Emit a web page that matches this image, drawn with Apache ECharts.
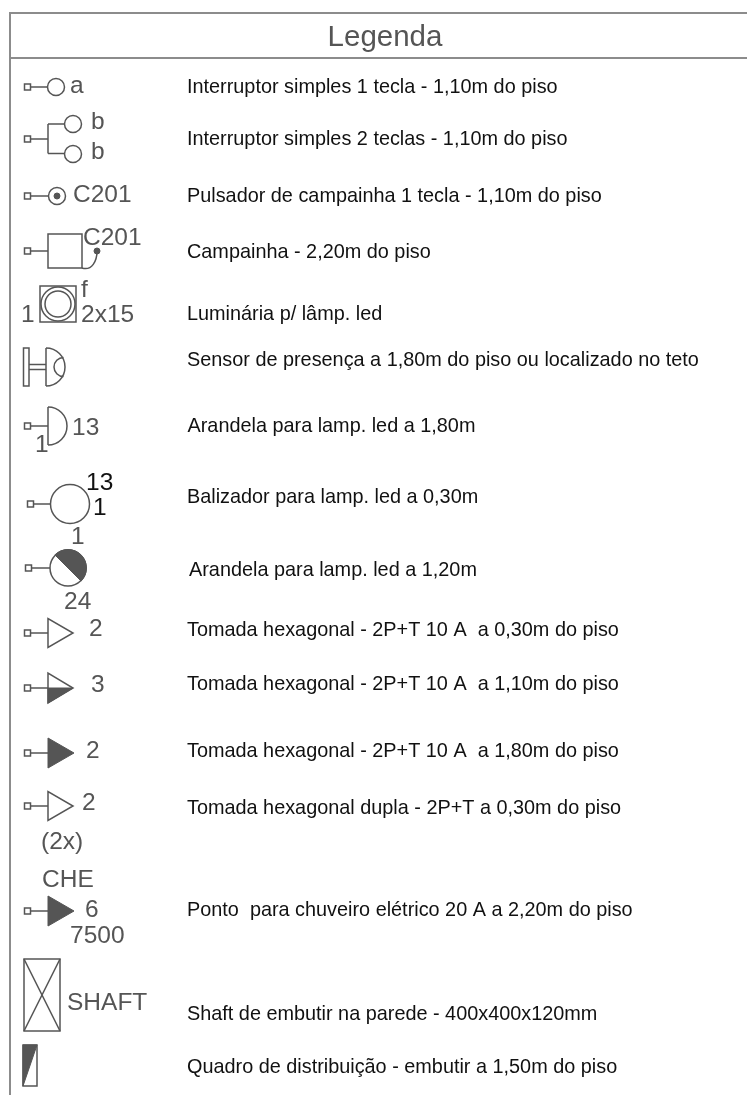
<!DOCTYPE html>
<html><head><meta charset="utf-8"><style>html,body{margin:0;padding:0;background:#fff}#c{width:747px;height:1095px}</style>
<script src="https://cdn.jsdelivr.net/npm/echarts@6/dist/echarts.min.js"></script></head><body><div id="c"></div>
<script>
const title = ['Legenda'];
const descriptions = [
 'Interruptor simples 1 tecla - 1,10m do piso',
 'Interruptor simples 2 teclas - 1,10m do piso',
 'Pulsador de campainha 1 tecla - 1,10m do piso',
 'Campainha - 2,20m do piso',
 'Luminária p/ lâmp. led',
 'Sensor de presença a 1,80m do piso ou localizado no teto',
 'Arandela para lamp. led a 1,80m',
 'Balizador para lamp. led a 0,30m',
 'Arandela para lamp. led a 1,20m',
 'Tomada hexagonal - 2P+T 10 A  a 0,30m do piso',
 'Tomada hexagonal - 2P+T 10 A  a 1,10m do piso',
 'Tomada hexagonal - 2P+T 10 A  a 1,80m do piso',
 'Tomada hexagonal dupla - 2P+T a 0,30m do piso',
 'Ponto  para chuveiro elétrico 20 A a 2,20m do piso',
 'Shaft de embutir na parede - 400x400x120mm',
 'Quadro de distribuição - embutir a 1,50m do piso'
];
const descX = [187,187,187,187,187,187,187.5,187,189,187,187,187,187,187,187,187];
const descY = [87.5,139.5,196.5,252.5,314.5,360.5,426.5,497.5,570.5,630.5,684.5,751.5,808.5,910.5,1014.5,1067.5];
const symbolKinds = ['switch1','switch2','bell','chime','lamp','sensor','sconce','bollard','halfDisc',
  'socketOpen','socketHalf','socketFull','socketOpen','socketFull','shaft','panel'];
const symbolX = [24,24,24,24,40,23,24,27,25,24,24,24,24,24,24,23];
const symbolY = [87,139,196,251,304,367,426,504,568,633,688,753,806,911,995,1066];
const symbolTexts = ['a','b','b','C201','C201','1','f','2x15','13','1','13','1','1','24','2','3','2','2','(2x)','CHE','6','7500','SHAFT'];
const symbolTextX = [70,91,91,73,83,21,81,81,72,35,86,93,71,64,89,91,86,82,41,42,85,70,67];
const symbolTextY = [86,122,152,195,238,315,290,315,428,445,483,508,537,602,629,685,751,803,842,880,910,936,1003];
const symbolTextDark = [0,0,0,0,0,0,0,0,0,0,1,1,0,0,0,0,0,0,0,0,0,0,0];

const GRAY='#555555', FRAME='#8c8c8c';
function symbolItem(params, api){
  const kind = symbolKinds[params.dataIndex];
  const o = api.coord([api.value(0), api.value(1)]);
  const x0=o[0], y0=o[1];
  const ls={stroke:GRAY,fill:'none',lineWidth:1.5};
  const fl={stroke:GRAY,fill:GRAY,lineWidth:1};
  const wh={stroke:GRAY,fill:'#fff',lineWidth:1.5};
  const line=(a,b,c,d)=>({type:'line',shape:{x1:x0+a,y1:y0+b,x2:x0+c,y2:y0+d},style:ls});
  const rect=(a,b,w,h,s)=>({type:'rect',shape:{x:x0+a,y:y0+b,width:w,height:h},style:s||ls});
  const circ=(a,b,r,s)=>({type:'circle',shape:{cx:x0+a,cy:y0+b,r:r},style:s||wh});
  const poly=(pts,s)=>({type:'polygon',shape:{points:pts.map(p=>[x0+p[0],y0+p[1]])},style:s||wh});
  const arc=(a,b,r,s,e)=>({type:'arc',shape:{cx:x0+a,cy:y0+b,r:r,startAngle:s,endAngle:e,clockwise:true},style:ls});
  const plug=(len)=>[rect(0.5,-3,6,6),line(6.5,0,len,0)];
  let c=[];
  if(kind==='switch1') c=[...plug(24),circ(32,0,8.5)];
  if(kind==='switch2') c=[...plug(24),line(24,-15,24,14.5),line(24,-15,41,-15),line(24,14.5,41,14.5),circ(49,-15,8.5),circ(49,15,8.5)];
  if(kind==='bell') c=[...plug(24),circ(33,0,8.5),circ(33,0,3,fl)];
  if(kind==='chime') c=[...plug(24),rect(24,-17,34,34),
    {type:'bezierCurve',shape:{x1:x0+58,y1:y0+17,cpx1:x0+68,cpy1:y0+20,cpx2:x0+73,cpy2:y0+10,x2:x0+73,y2:y0},style:ls},circ(73,0,3,fl)];
  if(kind==='lamp') c=[rect(0,-18,36,36),circ(18,0,17,ls),circ(18,0,13,ls)];
  if(kind==='sensor') c=[rect(0.5,-19,5.5,38),line(6,-2.5,23,-2.5),line(6,2.5,23,2.5),line(23,-19,23,19),arc(23,0,19,-Math.PI/2,Math.PI/2),arc(40.5,0,9.5,Math.PI*0.5,Math.PI*1.5)];
  if(kind==='sconce') c=[...plug(24),line(24,-19,24,19),arc(24,0,19,-Math.PI/2,Math.PI/2)];
  if(kind==='bollard') c=[...plug(24),circ(43,0,19.5)];
  if(kind==='halfDisc') c=[...plug(25),circ(43,0,18),{type:'sector',shape:{cx:x0+43,cy:y0,r:18.5,r0:0,startAngle:-Math.PI*0.75,endAngle:Math.PI*0.25,clockwise:true},style:fl}];
  if(kind==='socketOpen') c=[...plug(24),poly([[24,-14.5],[24,14.5],[49,0]])];
  if(kind==='socketHalf') c=[...plug(24),poly([[24,-15],[24,15],[49,0]]),poly([[24,0],[24,15],[49,0]],fl)];
  if(kind==='socketFull') c=[...plug(24),poly([[24,-15],[24,15],[50,0]],fl)];
  if(kind==='shaft') c=[rect(0,-36,36,72),line(0,-36,36,36),line(36,-36,0,36)];
  if(kind==='panel') c=[rect(0,-21,14,41),poly([[0,-21],[14,-21],[0,20]],fl)];
  return {type:'group',children:c};
}
function textItem(texts,size,colorFn,align){
  return (params,api)=>{
    const p=api.coord([api.value(0),api.value(1)]);
    return {type:'text',style:{x:p[0],y:p[1],text:texts[params.dataIndex],fill:colorFn(params.dataIndex),
      font:size+'px "Liberation Sans", Arial, sans-serif',textAlign:align,textVerticalAlign:'middle'}};
  };
}
function frameItem(params,api){
  const a=api.coord([api.value(0),api.value(1)]),b=api.coord([api.value(2),api.value(3)]);
  return {type:'line',shape:{x1:a[0],y1:a[1],x2:b[0],y2:b[1]},style:{stroke:FRAME,lineWidth:2}};
}
const frameLines=[[9,13,747,13],[9,58,747,58],[10,12,10,1095]];
const chart=echarts.init(document.getElementById('c'),null,{renderer:'canvas'});
chart.setOption({
  animation:false,backgroundColor:'#fff',
  grid:{left:0,right:0,top:0,bottom:0},
  xAxis:{type:'value',min:0,max:747,show:false},
  yAxis:{type:'value',min:0,max:1095,inverse:true,show:false},
  tooltip:{show:false},
  series:[
   {type:'custom',silent:true,clip:false,renderItem:frameItem,encode:{x:[0,2],y:[1,3]},data:frameLines},
   {type:'custom',silent:true,clip:false,renderItem:textItem(title,29.5,()=>GRAY,'center'),encode:{x:0,y:1},data:[[385,38]]},
   {type:'custom',silent:true,clip:false,renderItem:symbolItem,encode:{x:0,y:1},data:symbolX.map((x,i)=>[x,symbolY[i]])},
   {type:'custom',silent:true,clip:false,renderItem:textItem(symbolTexts,24.5,i=>symbolTextDark[i]?'#111':GRAY,'left'),encode:{x:0,y:1},data:symbolTexts.map((t,i)=>[symbolTextX[i],symbolTextY[i]])},
   {type:'custom',silent:true,clip:false,renderItem:textItem(descriptions,19.85,()=>'#111','left'),encode:{x:0,y:1},data:descriptions.map((t,i)=>[descX[i],descY[i]])}
  ]
});
</script></body></html>
